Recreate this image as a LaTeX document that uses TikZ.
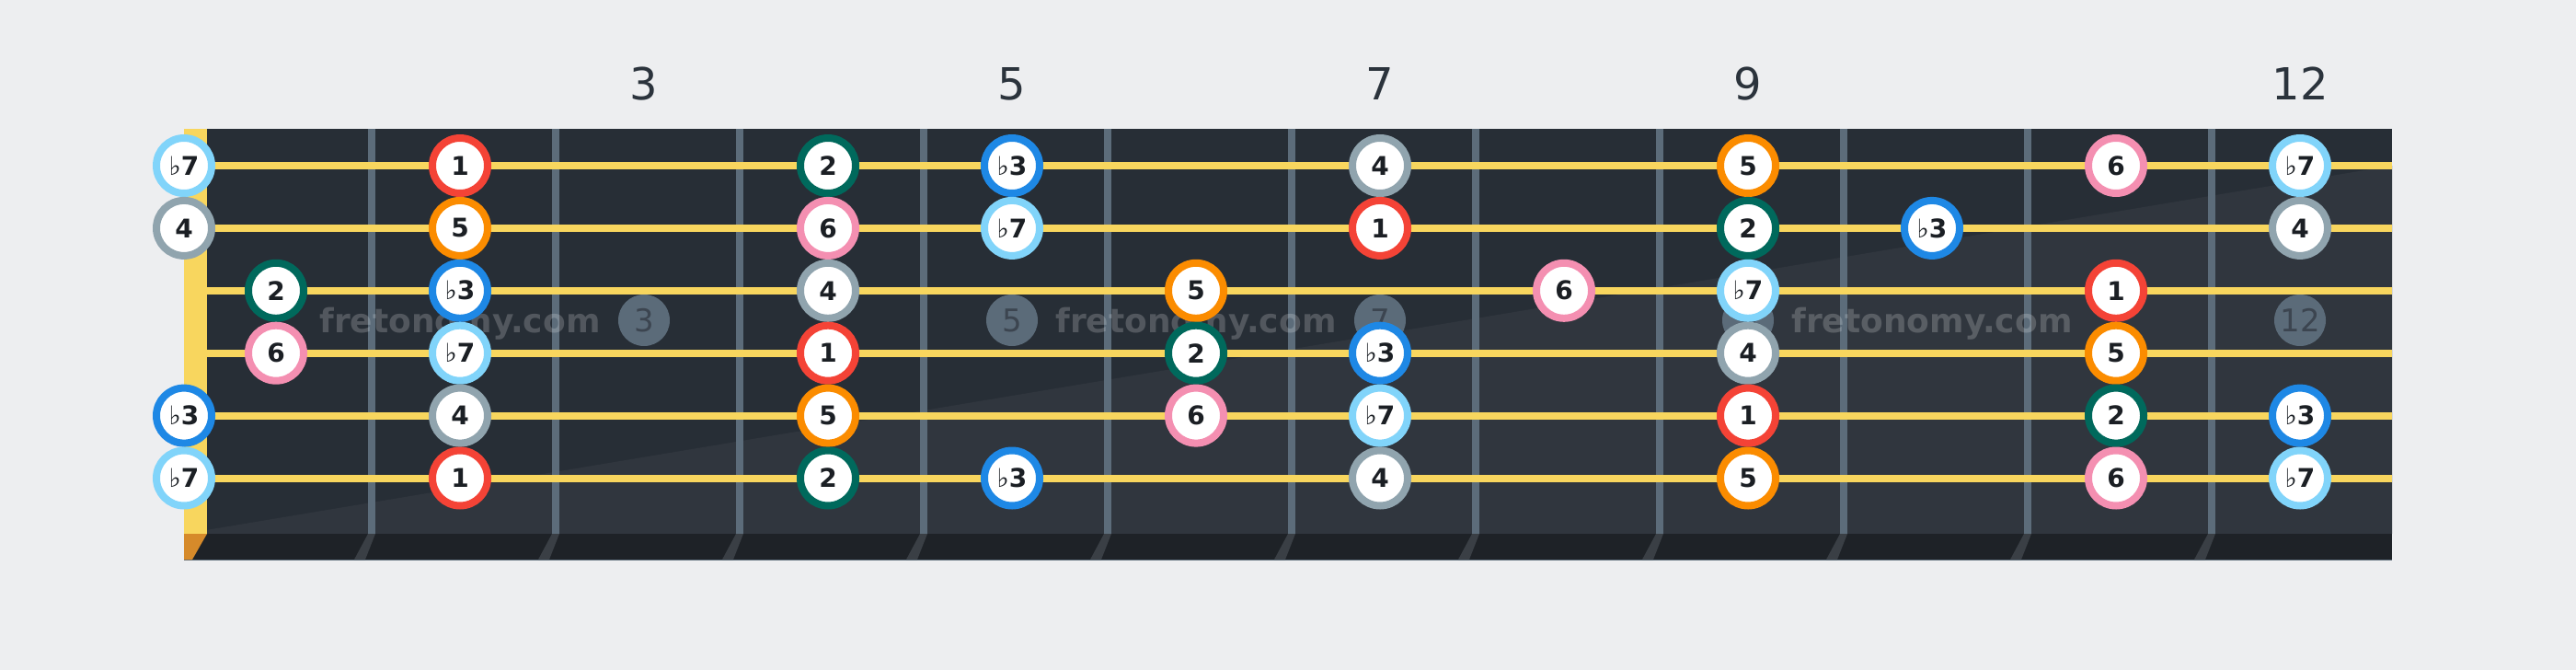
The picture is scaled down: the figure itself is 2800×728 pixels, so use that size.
\documentclass[tikz,border=0pt]{standalone}
\usepackage{fontspec}
\setmainfont{DejaVu Sans}
\newfontfamily\flatfnt{DejaVu Sans}
\definecolor{bgc}{HTML}{EDEEF0}
\definecolor{boardc}{HTML}{272E36}
\definecolor{boardlt}{HTML}{30363E}
\definecolor{stripc}{HTML}{1E2227}
\definecolor{stripmark}{HTML}{3A3F45}
\definecolor{fretc}{HTML}{5C6C7A}
\definecolor{stringc}{HTML}{F8D65E}
\definecolor{nutbot}{HTML}{D68A2A}
\definecolor{markc}{HTML}{5B6B79}
\definecolor{markt}{HTML}{3C4550}
\definecolor{labc}{HTML}{2B333C}
\definecolor{notetext}{HTML}{1B1F24}
\definecolor{c1}{HTML}{F44336}
\definecolor{c2}{HTML}{00695C}
\definecolor{cb3}{HTML}{1E88E5}
\definecolor{c4}{HTML}{90A4AE}
\definecolor{c5}{HTML}{FB8C00}
\definecolor{c6}{HTML}{F48FB1}
\definecolor{cb7}{HTML}{81D4FA}
\newcommand{\fl}{{\flatfnt\mdseries ♭}}
\expandafter\def\csname lbl1\endcsname{1}
\expandafter\def\csname lbl2\endcsname{2}
\expandafter\def\csname lblb3\endcsname{\fl 3}
\expandafter\def\csname lbl4\endcsname{4}
\expandafter\def\csname lbl5\endcsname{5}
\expandafter\def\csname lbl6\endcsname{6}
\expandafter\def\csname lblb7\endcsname{\fl 7}
\begin{document}
\begin{tikzpicture}[x=1pt,y=-1pt,
  note/.style={circle, draw=#1, line width=8pt, fill=white, minimum size=60pt,
    inner sep=0pt, text=notetext, font=\fontsize{28}{28}\selectfont\bfseries},
  marker/.style={circle, fill=markc, minimum size=56pt, inner sep=0pt,
    text=markt, font=\fontsize{34}{34}\selectfont},
  wm/.style={anchor=base, text=white, text opacity=0.2,
    font=\fontsize{36}{36}\selectfont\bfseries},
  fretnum/.style={anchor=base, text=labc, font=\fontsize{48}{48}\selectfont},
  fretline/.style={draw=fretc, line width=8pt},
  stringline/.style={draw=stringc, line width=8pt}]
\fill[bgc] (0,0) rectangle (2800,728);
\useasboundingbox (0,0) rectangle (2800,728);
% board
\fill[boardc] (200,140) rectangle (2600,580);
\fill[boardlt] (200,580) -- (2600,180) -- (2600,580) -- cycle;
\fill[stripc] (200,580) rectangle (2600,608);
\draw[fretc, line width=1.5pt] (200,608.5) -- (2600,608.5);
\fill[nutbot] (200,580) -- (225,580) -- (209,608) -- (200,608) -- cycle;
\foreach \k in {1,...,11}{
  \fill[stripmark] (200+200*\k,580) -- (208+200*\k,580) -- (197+200*\k,608) -- (185+200*\k,608) -- cycle;
  \draw[fretline] (204+200*\k,140) -- (204+200*\k,580);
}
\fill[stringc] (200,140) rectangle (225,580);
% fret numbers
\node[fretnum] (f3) at (700,108) {3};
\node[fretnum] (f5) at (1100,108) {5};
\node[fretnum] (f7) at (1500,108) {7};
\node[fretnum] (f9) at (1900,108) {9};
\node[fretnum] (f12) at (2500,108) {12};
% inlay markers and watermark
\node[marker] (m3) at (700,348) {3};
\node[marker] (m5) at (1100,348) {5};
\node[marker] (m7) at (1500,348) {7};
\node[marker] (m9) at (1900,348) {9};
\node[marker] (m12) at (2500,348) {12};
\node[wm] (w1) at (500,361) {fretonomy.com};
\node[wm] (w2) at (1300,361) {fretonomy.com};
\node[wm] (w3) at (2100,361) {fretonomy.com};
% strings
\foreach \s in {1,...,6}{
  \draw[stringline] (225,{180+67.9*(\s-1)}) -- (2600,{180+67.9*(\s-1)});
}
% notes
\foreach \s/\f/\d in {
  1/0/b7, 1/2/1, 1/4/2, 1/5/b3, 1/7/4, 1/9/5, 1/11/6, 1/12/b7,
  2/0/4, 2/2/5, 2/4/6, 2/5/b7, 2/7/1, 2/9/2, 2/10/b3, 2/12/4,
  3/1/2, 3/2/b3, 3/4/4, 3/6/5, 3/8/6, 3/9/b7, 3/11/1,
  4/1/6, 4/2/b7, 4/4/1, 4/6/2, 4/7/b3, 4/9/4, 4/11/5,
  5/0/b3, 5/2/4, 5/4/5, 5/6/6, 5/7/b7, 5/9/1, 5/11/2, 5/12/b3,
  6/0/b7, 6/2/1, 6/4/2, 6/5/b3, 6/7/4, 6/9/5, 6/11/6, 6/12/b7}{
  \pgfmathsetmacro\xx{ifthenelse(\f==0,200,100+200*\f)}
  \pgfmathsetmacro\yy{180+67.9*(\s-1)}
  \node[note=c\d] (n\s-\f) at (\xx,\yy) {\csname lbl\d\endcsname};
}
\end{tikzpicture}
\end{document}
